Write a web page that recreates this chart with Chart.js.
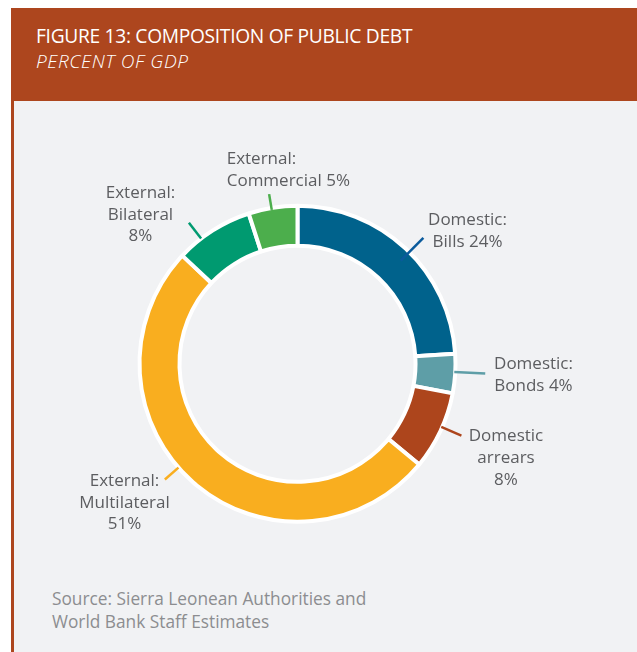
<!DOCTYPE html>
<html>
<head>
<meta charset="utf-8">
<script src="https://cdn.jsdelivr.net/npm/chart.js@4/dist/chart.umd.min.js"></script>
<style>
  html, body { margin: 0; padding: 0; background: #ffffff; }
  body { width: 637px; height: 652px; position: relative; overflow: hidden; font-family: "Open Sans", sans-serif; }
  .header { position: absolute; left: 11px; top: 8px; width: 626px; height: 93px; background: #AD461E; }
  .rule { position: absolute; left: 11px; top: 101px; width: 2.5px; height: 551px; background: #AD461E; }
  .panel { position: absolute; left: 13.5px; top: 101px; right: 0; bottom: 0; background: #F1F2F4; }
  .title { position: absolute; left: 36px; top: 26px; font-size: 19.2px; line-height: 19.2px; font-weight: 500; letter-spacing: -0.3px; color: #ffffff; white-space: nowrap; }
  .subtitle { position: absolute; left: 36px; top: 51.5px; font-size: 19px; line-height: 19px; font-weight: 300; font-style: italic; letter-spacing: 0.6px; color: #ffffff; white-space: nowrap; }
  .source { position: absolute; left: 52px; top: 587px; font-size: 17.3px; line-height: 23.3px; color: #8C8D90; white-space: nowrap; }
  #chart { position: absolute; left: 0; top: 0; }
</style>
</head>
<body>
<div class="header"></div>
<div class="rule"></div>
<div class="panel"></div>
<div class="title">FIGURE 13: COMPOSITION OF PUBLIC DEBT</div>
<div class="subtitle">PERCENT OF GDP</div>
<div class="source">Source: Sierra Leonean Authorities and<br>World Bank Staff Estimates</div>
<canvas id="chart" width="637" height="652"></canvas>
<script>
// Composition of public debt, percent of GDP (clockwise from 12 o'clock)
const categories = [
  'Domestic: Bills',
  'Domestic: Bonds',
  'Domestic arrears',
  'External: Multilateral',
  'External: Bilateral',
  'External: Commercial'
];
const shares = [24, 4, 8, 51, 8, 5];

// Label text lines for each slice; the value is appended from `shares`
const labelLines = [
  ['Domestic:', 'Bills {v}%'],
  ['Domestic:', 'Bonds {v}%'],
  ['Domestic', 'arrears', '{v}%'],
  ['External:', 'Multilateral', '{v}%'],
  ['External:', 'Bilateral', '{v}%'],
  ['External:', 'Commercial {v}%']
];

const sliceColors = ['#00628C', '#5E9EA7', '#AD451C', '#F9AE1F', '#009A70', '#4CAE4C'];
const leaderColors = ['#0A5A9C', '#5E9EA7', '#AD451C', '#F9AE1F', '#009A70', '#4CAE4C'];

// Label placement: text anchor relative to the ring centre, first baseline
// leader line: angle nudge from the slice middle (deg), inner/outer radius
const labelLayout = [
  { dx: 170,   dy: -138.8, align: 'center', nudge: 1.8,  r0: 146, r1: 178 },
  { dx: 236,   dy: 5.5,    align: 'center', nudge: -0.6, r0: 157, r1: 188 },
  { dx: 208.5, dy: 77.3,   align: 'center', nudge: -1.5, r0: 157, r1: 179 },
  { dx: -173,  dy: 122,    align: 'center', nudge: 7.5,  r0: 158, r1: 176 },
  { dx: -157,  dy: -166,   align: 'center', nudge: -5.2, r0: 158, r1: 178 },
  { dx: -70.8, dy: -199.5, align: 'left',   nudge: -0.5, r0: 156, r1: 172 }
];
const labelFont = '17px "Open Sans", sans-serif';
const labelColor = '#5C5D60';
const lineGap = 21.8;

const sliceLabels = {
  id: 'sliceLabels',
  afterDatasetsDraw(chart) {
    const ctx = chart.ctx;
    const arcs = chart.getDatasetMeta(0).data;
    ctx.save();
    arcs.forEach((arc, i) => {
      const L = labelLayout[i];
      const mid = (arc.startAngle + arc.endAngle) / 2 + L.nudge * Math.PI / 180;
      const cx = arc.x, cy = arc.y;
      ctx.strokeStyle = leaderColors[i];
      ctx.lineWidth = 2.5;
      ctx.lineCap = 'butt';
      ctx.beginPath();
      ctx.moveTo(cx + Math.cos(mid) * L.r0, cy + Math.sin(mid) * L.r0);
      ctx.lineTo(cx + Math.cos(mid) * L.r1, cy + Math.sin(mid) * L.r1);
      ctx.stroke();

      ctx.font = labelFont;
      ctx.fillStyle = labelColor;
      ctx.textAlign = L.align;
      ctx.textBaseline = 'alphabetic';
      labelLines[i].forEach((t, k) => {
        const text = t.replace('{v}', shares[i]);
        ctx.fillText(text, cx + L.dx, cy + L.dy + k * lineGap);
      });
    });
    ctx.restore();
  }
};

new Chart(document.getElementById('chart'), {
  type: 'doughnut',
  data: {
    labels: categories,
    datasets: [{
      data: shares,
      backgroundColor: sliceColors,
      borderColor: '#ffffff',
      borderWidth: 4,
      hoverOffset: 0
    }]
  },
  options: {
    responsive: false,
    animation: false,
    radius: 158,
    cutout: '74.7%',
    layout: { padding: { left: 120, right: 162, top: 190, bottom: 114.5 } },
    plugins: { legend: { display: false }, tooltip: { enabled: false } },
    events: []
  },
  plugins: [sliceLabels]
});
</script>
</body>
</html>
